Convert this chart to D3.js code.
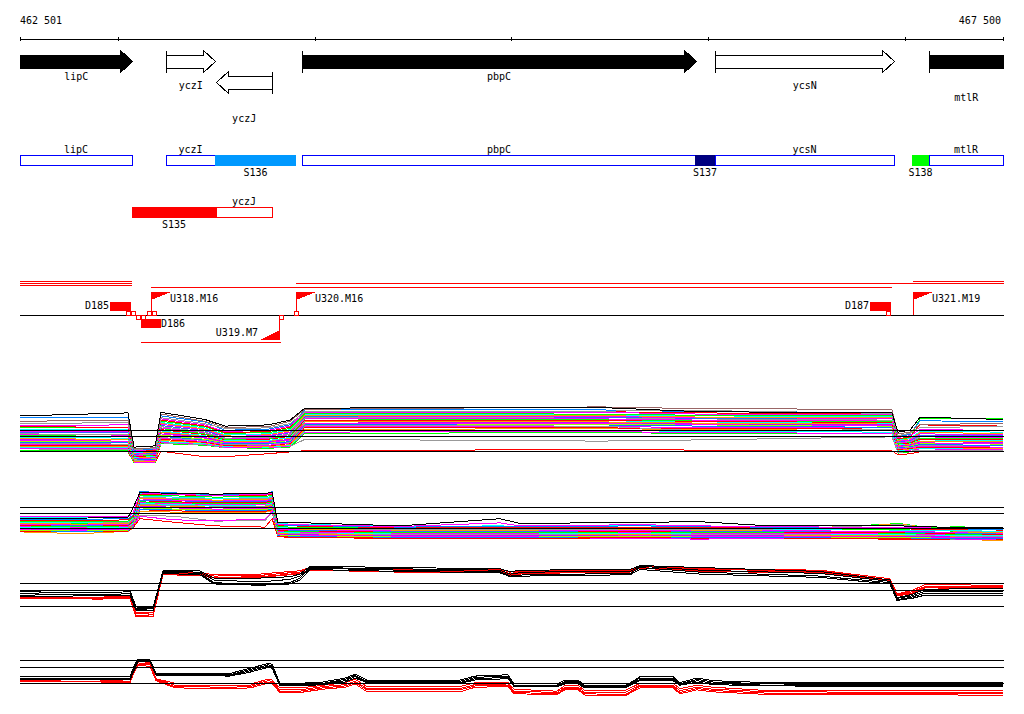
<!DOCTYPE html>
<html><head><meta charset="utf-8">
<script src="https://cdn.jsdelivr.net/npm/d3@7"></script>
<style>
html,body{margin:0;padding:0;background:#fff;}
svg{display:block;}
text{font-family:"DejaVu Sans Mono",monospace;font-size:10px;fill:#000;}
</style></head><body>
<svg id="chart" width="1024" height="714"></svg>
<script>
// ================= DATA =================
const regionStart = 462501, regionEnd = 467500;
const axisTicks  = [462501, 463000, 464000, 465000, 466000, 467000, 467500];

// genes (top arrows)
const geneNames  = ["lipC","yczI","yczJ","pbpC","ycsN","mtlR"];
const geneStart  = [461900, 463246, 463497, 463934, 466037, 467126];
const geneEnd    = [463073, 463492, 463785, 465940, 466946, 468200];
const geneStrand = [1, 1, -1, 1, 1, 1];
const geneFilled = [true, false, false, true, false, true];

// CDS boxes and promoter/site segments
const cdsNames  = ["lipC","yczI","pbpC","ycsN","mtlR","yczJ"];
const cdsStart  = [461900, 463246, 463934, 466037, 467126, 463497];
const cdsEnd    = [463073, 463492, 465940, 466946, 468200, 463785];
const cdsRow    = [0,0,0,0,0,1];
const siteNames = ["S136","S137","S138","S135"];
const siteStart = [463492, 465935, 467038, 463070];
const siteEnd   = [463903, 466037, 467126, 463497];
const siteRow   = [0,0,0,1];

// transcripts
const txStart  = [461900, 461900, 461900, 463167, 463903, 467043, 463116];
const txEnd    = [463065, 463065, 463065, 466931, 468200, 468200, 463822];
const txStrand = [1,1,1,1,1,1,-1];
const txLane   = [0,1,2,3,1,0,0];

// shifts (U = up, D = down)
const shiftNames  = ["D185","D186","U318.M16","U319.M7","U320.M16","D187","U321.M19"];
const shiftPos    = [463065, 463116, 463167, 463820, 463903, 466931, 467043];
const shiftStrand = [1,-1,1,-1,1,1,1];
const markerPos    = [463040, 463063, 463090, 463116, 463146, 463172, 463817, 463895, 466907];
const markerStrand = [1,1,-1,-1,1,1,-1,1,1];

// expression tracks: reference levels
const refLevels = [8, 10.5, 11.5];

// track 1
const track1Pos = [462501,463050,463081,463188,463218,463442,463543,463763,463874,463950,465451,465959,466935,466966,467027,467078,467500];
const track1Series = [
 [13.9,14.4,8.7,8.9,14.5,13.3,12.2,12.4,13.2,15.2,15.3,14.6,14.4,11.2,11.5,13.7,13.3],
 [13.0,13.2,8.4,8.6,14.2,13.0,12.0,12.1,13.0,15.0,15.4,15.1,15.0,10.9,11.2,12.5,12.6],
 [12.6,12.8,8.3,8.5,13.6,12.6,11.8,11.9,12.6,14.6,14.7,14.8,14.3,10.6,11.0,12.0,12.1],
 [13.6,13.7,8.2,8.4,13.9,12.9,11.5,11.7,12.4,14.9,14.9,14.6,14.5,10.5,10.8,13.1,12.9],
 [12.3,12.4,8.1,8.3,13.4,12.4,11.3,11.5,12.2,14.5,14.5,14.2,14.1,10.3,10.6,11.6,11.5],
 [12.1,12.0,8.0,8.2,13.2,12.2,11.1,11.3,12.0,14.6,14.6,14.4,14.2,10.1,10.4,12.4,12.2],
 [11.9,11.9,7.9,8.1,13.0,12.1,11.0,11.1,11.8,14.3,14.2,14.0,13.9,10.0,10.3,13.4,13.5],
 [11.7,11.6,7.8,8.0,12.8,11.9,10.8,10.9,11.6,14.2,14.1,13.9,13.8,9.9,10.2,11.3,11.2],
 [11.5,11.4,7.7,7.9,12.7,11.7,10.7,10.8,11.4,14.0,14.0,13.7,13.6,9.8,10.1,11.1,11.0],
 [11.3,11.3,7.6,7.8,12.5,11.6,10.5,10.6,11.2,13.9,13.8,13.6,13.5,9.7,9.9,10.9,10.8],
 [11.1,11.1,7.5,7.7,12.3,11.4,10.4,10.5,11.1,13.8,13.7,13.5,13.4,9.6,9.8,10.7,10.6],
 [10.9,10.8,7.4,7.6,12.1,11.2,10.2,10.3,10.9,13.6,13.6,13.4,13.2,9.5,9.7,10.5,10.4],
 [10.8,10.7,7.3,7.5,11.9,11.1,10.1,10.2,10.8,13.5,13.4,13.2,13.1,9.4,9.6,10.4,10.3],
 [10.6,10.5,7.2,7.4,11.8,10.9,10.0,10.1,10.6,13.4,13.3,13.1,13.0,9.3,9.5,10.2,10.1],
 [10.4,10.4,7.1,7.3,11.6,10.8,9.9,10.0,10.5,13.2,13.2,13.0,12.8,9.2,9.4,10.0,9.9],
 [10.3,10.2,7.0,7.2,11.4,10.6,9.8,9.8,10.3,13.1,13.1,12.9,12.7,9.1,9.3,9.9,9.8],
 [10.1,10.0,6.9,7.1,11.2,10.5,9.7,9.7,10.2,13.0,12.9,12.7,12.6,9.0,9.2,9.7,9.6],
 [10.0,9.9,6.8,7.0,11.1,10.3,9.6,9.6,10.0,12.9,12.8,12.6,12.4,8.9,9.1,9.6,9.5],
 [9.8,9.7,6.8,6.9,10.9,10.2,9.5,9.5,9.9,12.7,12.7,12.5,12.3,8.8,9.0,9.4,9.3],
 [9.6,9.6,6.7,6.8,10.7,10.0,9.4,9.4,9.8,12.6,12.5,12.4,12.2,8.7,8.9,9.3,9.2],
 [9.5,9.4,6.6,6.7,10.5,9.9,9.3,9.3,9.6,12.5,12.4,12.2,12.0,8.6,8.8,9.1,9.0],
 [9.3,9.2,6.5,6.6,10.3,9.8,9.2,9.2,9.5,12.3,12.2,11.4,11.6,8.5,8.7,9.0,8.9],
 [9.1,9.1,6.5,6.5,10.2,9.6,9.1,9.0,9.4,12.2,12.1,12.0,11.9,8.4,8.6,8.8,8.7],
 [9.0,8.9,6.4,6.4,10.0,9.5,9.0,8.9,9.3,12.0,11.9,11.8,11.7,8.3,8.5,8.7,8.6],
 [8.8,8.8,6.3,6.3,9.8,9.4,8.9,8.8,9.1,11.6,11.8,11.6,11.5,8.2,8.4,8.6,8.5],
 [8.6,8.6,6.3,6.3,9.6,9.3,8.8,8.7,9.0,11.4,11.5,11.3,11.2,8.1,8.3,8.5,8.4],
 [8.5,8.4,6.2,6.2,9.5,9.2,8.7,8.6,8.9,11.2,11.3,11.1,11.0,8.0,8.2,8.4,8.3],
 [8.4,8.3,6.2,6.2,9.4,9.1,8.6,8.6,8.8,10.0,9.7,9.9,10.4,7.8,8.0,8.2,8.1],
 [8.2,8.1,6.1,6.1,9.3,9.0,8.6,8.5,8.7,11.0,11.1,11.0,10.9,7.7,7.9,8.1,8.0],
 [8.0,7.9,6.1,6.1,8.0,7.1,7.1,7.6,7.9,8.1,8.3,8.2,8.1,7.4,7.6,7.9,7.9]
];

// track 2
const track2Pos = [462501,462806,463050,463076,463111,463289,463493,463747,463783,463813,463874,464433,464942,465044,465654,465959,466264,466976,467281,467500];
const track2Series = [
 [9.6,9.7,9.8,11.4,14.0,13.8,13.7,13.8,14.0,8.9,9.0,8.4,9.6,8.8,9.0,9.1,8.5,8.4,8.1,8.2],
 [10.0,9.9,9.9,10.5,13.9,13.6,13.5,13.6,13.9,8.7,8.6,8.3,8.9,8.4,8.6,8.4,8.3,8.1,8.0,7.9],
 [9.4,9.5,9.6,10.2,14.1,13.9,13.6,13.7,14.1,8.6,8.5,8.2,8.3,8.3,8.4,8.3,8.2,8.0,7.9,7.8],
 [9.3,9.3,9.4,10.0,13.7,13.6,13.4,13.5,13.7,8.5,8.4,8.1,8.2,8.2,8.2,8.2,8.1,7.9,7.8,7.7],
 [9.1,9.2,9.2,9.8,13.5,13.4,13.2,13.3,13.5,8.3,8.2,8.0,8.1,8.0,8.1,8.0,8.0,7.8,8.3,7.6],
 [9.0,9.0,9.1,9.7,13.4,13.2,13.0,13.1,13.3,8.2,8.1,7.9,7.9,7.9,8.0,7.9,7.9,7.7,7.6,7.5],
 [8.9,8.9,9.0,9.6,13.2,13.0,12.9,12.9,13.2,8.1,8.0,7.8,7.8,7.8,7.9,7.8,7.8,8.6,7.5,7.4],
 [8.8,8.7,8.8,9.5,13.0,12.9,12.7,12.8,13.0,8.0,7.9,7.7,7.7,7.7,7.8,7.7,7.7,8.7,7.4,7.3],
 [8.7,8.6,8.7,9.4,12.9,12.7,12.6,12.6,12.9,7.9,7.8,7.6,7.6,7.6,7.7,7.6,7.6,7.5,7.3,7.2],
 [8.6,8.5,8.6,9.3,12.7,12.6,12.4,12.5,12.7,7.8,7.7,7.5,7.5,7.5,7.6,7.5,7.5,7.4,7.2,7.1],
 [8.5,8.4,8.5,9.2,12.6,12.4,12.3,12.3,12.6,7.7,7.6,7.4,7.4,7.4,7.5,7.4,7.4,7.3,7.1,7.0],
 [8.4,8.3,8.4,9.1,12.4,12.3,12.1,12.2,12.4,7.6,7.5,7.3,7.3,7.3,7.4,7.3,7.3,7.2,7.0,6.9],
 [8.3,8.2,8.3,9.0,12.3,12.1,12.0,12.0,12.3,7.5,7.4,7.2,7.2,7.2,7.3,7.2,7.2,7.1,6.9,6.9],
 [8.2,8.1,8.2,8.9,12.1,12.0,11.8,11.9,12.1,7.4,7.3,7.1,7.1,7.1,7.2,7.1,7.1,7.0,6.8,6.8],
 [8.1,8.0,8.1,8.8,12.0,11.8,11.7,11.7,12.0,7.3,7.2,7.0,7.0,7.0,7.1,7.0,7.0,6.9,6.7,6.7],
 [8.0,7.9,8.0,8.7,11.8,11.7,11.5,11.6,11.8,7.2,7.1,6.9,6.9,6.9,7.0,6.9,6.9,6.8,6.7,6.6],
 [7.9,7.8,7.9,8.6,11.7,11.5,11.4,11.4,11.7,7.1,7.0,6.8,6.8,6.8,6.9,6.8,6.8,6.7,6.6,6.5],
 [7.8,7.7,7.8,8.5,11.5,11.4,11.2,11.3,11.5,7.0,6.9,6.7,6.7,6.7,6.8,6.7,6.7,6.6,6.5,6.4],
 [7.7,7.6,7.7,8.4,11.4,11.2,11.1,11.1,11.4,6.9,6.8,6.6,6.6,6.6,6.7,6.6,6.6,6.5,6.4,6.4],
 [7.6,7.5,7.6,8.3,11.2,11.1,10.9,11.0,11.2,6.8,6.7,6.5,6.5,6.5,6.6,6.5,6.5,6.4,6.3,6.3],
 [7.5,7.5,7.5,8.2,11.1,10.9,10.8,10.8,11.1,6.7,6.6,6.4,6.4,6.4,6.5,6.4,6.4,6.3,6.3,6.2],
 [7.9,7.8,7.9,8.4,10.0,9.4,9.3,9.5,10.8,6.9,6.7,6.5,6.6,6.5,6.3,6.2,6.3,6.4,6.2,6.2],
 [8.0,7.9,8.0,8.6,10.2,10.0,9.2,9.3,10.6,7.0,6.8,6.6,6.7,6.6,6.5,6.4,6.4,6.3,6.2,6.1],
 [7.6,7.6,7.6,8.1,9.6,9.0,8.4,8.2,9.6,6.6,6.5,6.3,6.3,6.3,6.3,6.3,6.3,6.2,6.1,6.1],
 [7.4,7.1,7.5,8.0,10.8,10.7,10.6,10.7,10.9,6.6,6.5,6.3,6.3,6.3,6.4,6.3,6.3,6.2,6.1,6.0],
 [9.8,9.8,9.9,10.6,13.8,13.7,13.6,13.7,13.9,8.8,8.7,8.3,8.4,8.3,8.5,8.4,8.3,8.1,7.9,7.9],
 [8.9,8.8,8.9,9.6,13.1,12.8,12.5,12.7,13.1,7.9,7.8,7.6,7.6,7.6,7.7,7.6,7.6,8.8,7.3,7.2]
];

// track 3 (black then red replicates)
const track3Pos = [462501,462908,463060,463091,463177,463228,463416,463488,463721,463874,463925,463976,464433,464942,464993,465069,465603,465654,465959,466569,466925,466961,467037,467103,467500];
const track3Series = [
 [10.3,10.4,10.4,7.9,7.8,13.4,13.4,12.3,12.3,12.5,12.9,14.1,13.9,13.7,13.3,13.5,13.6,14.2,13.9,13.3,12.0,9.3,9.8,10.6,10.7],
 [10.0,10.1,10.2,7.7,7.6,13.3,13.2,12.0,11.7,12.1,12.6,13.9,13.7,13.5,12.9,13.2,13.3,14.1,13.5,13.0,11.8,9.2,9.6,10.3,10.3],
 [9.7,9.8,9.9,7.5,7.4,13.2,13.0,11.6,11.3,11.6,12.3,13.8,13.5,13.3,12.6,12.8,13.0,13.9,13.2,12.6,11.6,9.0,9.4,10.0,10.0],
 [9.5,9.6,9.6,7.4,7.3,13.0,12.8,11.4,11.2,11.4,12.0,13.6,13.3,13.1,12.5,12.6,12.8,13.6,12.9,12.4,11.4,8.9,9.2,9.7,9.6],
 [9.4,9.4,9.5,7.1,7.0,13.1,13.1,12.8,12.9,13.3,13.4,13.9,13.6,13.6,13.2,13.4,13.5,14.2,13.7,13.5,12.2,9.9,10.4,11.3,11.2],
 [9.3,9.3,9.4,6.9,6.8,13.0,12.9,12.6,12.7,13.1,13.2,13.8,13.5,13.4,13.0,13.3,13.4,14.1,13.6,13.4,12.0,9.8,10.2,11.0,11.0],
 [9.2,9.2,9.3,6.6,6.5,12.9,12.8,12.4,12.5,12.9,13.0,13.6,13.3,13.3,12.8,13.1,13.3,13.9,13.4,13.2,11.9,9.7,10.0,10.9,10.8],
 [9.2,9.1,9.2,6.4,6.4,12.8,12.7,12.3,12.4,12.8,12.9,13.5,13.2,13.2,12.7,13.0,13.2,13.8,13.3,13.1,11.8,9.6,9.9,10.8,10.7]
];

// track 4 (black then red replicates)
const track4Pos = [462501,462908,463060,463081,463101,463162,463193,463289,463569,463671,463762,463783,463823,463925,464042,464154,464205,464266,464739,464815,464983,465013,465232,465273,465339,465374,465578,465654,465822,465857,465944,466025,466300,467500];
const track4Series = [
 [9.0,9.0,9.0,10.6,11.7,11.6,9.5,9.5,9.5,10.3,11.0,10.9,8.0,8.0,8.2,8.8,9.4,8.5,8.5,9.1,9.3,7.9,7.9,8.5,8.5,7.6,7.6,9.0,9.0,8.1,8.8,8.4,8.1,8.1],
 [8.8,8.8,8.7,10.3,11.6,11.5,9.4,9.4,9.3,10.1,10.8,10.7,7.8,7.8,8.0,8.6,9.2,8.3,8.3,8.9,9.1,7.7,7.7,8.3,8.3,7.5,7.5,8.8,8.8,7.9,8.6,8.2,7.9,7.8],
 [8.7,8.7,8.6,10.1,11.5,11.4,9.3,9.3,9.2,9.9,10.6,10.5,7.7,7.7,7.9,8.4,9.0,8.2,8.1,8.7,8.9,7.6,7.6,8.1,8.1,7.4,7.4,8.6,8.6,7.8,8.4,8.0,7.7,7.6],
 [8.6,8.6,8.5,9.9,11.3,11.3,9.2,9.2,9.1,9.7,10.4,10.3,7.6,7.6,7.8,8.2,8.8,8.1,8.0,8.5,8.7,7.5,7.5,7.9,7.9,7.3,7.3,8.4,8.4,7.7,8.2,7.8,7.6,7.5],
 [8.8,8.7,8.5,10.2,11.3,11.2,8.7,8.0,7.9,7.9,8.6,8.5,7.3,7.3,7.7,8.1,8.6,7.5,7.5,8.1,8.1,7.1,6.8,7.7,7.7,6.9,6.9,8.0,8.0,7.2,7.7,7.4,6.9,6.9],
 [8.6,8.5,8.3,10.0,11.1,11.0,8.6,7.7,7.6,7.7,8.4,8.3,7.0,7.0,7.5,7.8,8.3,7.2,7.2,7.8,7.9,6.8,6.6,7.4,7.4,6.6,6.6,7.7,7.7,6.9,7.4,7.1,6.7,6.6],
 [8.4,8.3,8.2,9.8,10.9,10.8,8.5,7.5,7.4,7.5,8.2,8.1,6.8,6.8,7.3,7.6,8.1,7.0,7.0,7.6,7.7,6.6,6.4,7.2,7.2,6.4,6.3,7.5,7.5,6.6,7.2,6.9,6.5,6.4],
 [8.3,8.2,8.1,9.6,10.7,10.6,8.4,7.3,7.2,7.3,8.0,7.9,6.6,6.6,7.1,7.4,7.9,6.7,6.7,7.4,7.5,6.4,6.3,7.0,7.0,6.2,6.1,7.3,7.3,6.4,7.0,6.7,6.3,6.2]
];

// ================= STYLE / LAYOUT =================
const M = "#ff00ff", LI = "#00ff00", DB = "#0080ff", RD = "#ff0000", CY = "#00ffff",
      OR = "#ff9900", GR = "#999999", BR = "#996666", BK = "#000000", BL = "#3366ff",
      PU = "#cc00ff", CH = "#99ff00";
const palette1 = [BK,BR,GR,DB,M,RD,LI,CY,OR,M,BL,GR,M,LI,RD,CY,OR,PU,M,CH,DB,GR,M,RD,OR,CY,M,GR,LI,RD];
const palette2 = [BK,M,DB,RD,LI,CY,GR,OR,M,BL,RD,LI,M,CY,GR,OR,PU,M,CH,DB,RD,M,GR,RD,OR,CY,LI];
const palette34 = [BK,BK,BK,BK,RD,RD,RD,RD];
const geneLabelY = {lipC:80, yczI:89, yczJ:122, pbpC:80, ycsN:89, mtlR:101};
const siteColor = {S136:"#0099ff", S137:"#000080", S138:"#00ff00", S135:"#ff0000"};
const rowBorder = ["#0000ff", "#ff0000"];
const rowTop = [155, 207];

// ================= DRAW =================
const svg = d3.select("#chart");
const x = d3.scaleLinear().domain([regionStart, regionEnd]).range([20, 1003]);
const cx = v => x(Math.max(regionStart, Math.min(regionEnd, v)));
const fmt = d3.formatLocale({decimal: ".", thousands: " ", grouping: [3], currency: ["", ""]}).format(",d");

// axis
const axisG = svg.append("g").attr("transform", "translate(0,38.5)").attr("shape-rendering", "crispEdges")
  .call(d3.axisBottom(x).tickValues(axisTicks).tickSizeInner(2).tickSizeOuter(0).tickFormat(() => ""));
axisG.selectAll(".tick line").attr("y1", -2).attr("y2", 2);
axisG.select(".domain").attr("stroke", "#000");
svg.append("text").attr("x", x(regionStart)).attr("y", 24).text(fmt(regionStart));
svg.append("text").attr("x", x(regionEnd) - 2).attr("y", 24).attr("text-anchor", "end").text(fmt(regionEnd));

// gene arrows
const geneG = svg.append("g").attr("shape-rendering", "crispEdges");
geneNames.forEach((name, i) => {
  const strand = geneStrand[i];
  const cy = strand > 0 ? 61.5 : 82.5;
  const x0 = Math.round(cx(geneStart[i])) + 0.5, x1 = Math.round(cx(geneEnd[i])) + 0.5;
  const bh = 6.5, hh = 11, hl = 12;
  let pts;
  if (strand > 0) {
    const head = geneEnd[i] <= regionEnd;
    pts = head ? [[x0, cy - bh], [x1 - hl, cy - bh], [x1 - hl, cy - hh], [x1, cy], [x1 - hl, cy + hh], [x1 - hl, cy + bh], [x0, cy + bh]]
               : [[x0, cy - bh], [x1, cy - bh], [x1, cy + bh], [x0, cy + bh]];
    if (geneStart[i] >= regionStart) geneG.append("line").attr("x1", x0).attr("x2", x0).attr("y1", cy - hh).attr("y2", cy + hh).attr("stroke", "#000");
  } else {
    const head = geneStart[i] >= regionStart;
    pts = head ? [[x1, cy - bh], [x0 + hl, cy - bh], [x0 + hl, cy - hh], [x0, cy], [x0 + hl, cy + hh], [x0 + hl, cy + bh], [x1, cy + bh]]
               : [[x1, cy - bh], [x0, cy - bh], [x0, cy + bh], [x1, cy + bh]];
    if (geneEnd[i] <= regionEnd) geneG.append("line").attr("x1", x1).attr("x2", x1).attr("y1", cy - hh).attr("y2", cy + hh).attr("stroke", "#000");
  }
  geneG.append("path").attr("d", d3.line()(pts) + "Z")
    .attr("fill", geneFilled[i] ? "#000" : "#fff").attr("stroke", "#000");
  svg.append("text").attr("x", (cx(geneStart[i]) + cx(geneEnd[i])) / 2).attr("y", geneLabelY[name])
    .attr("text-anchor", "middle").text(name);
});

// CDS boxes
const boxG = svg.append("g").attr("shape-rendering", "crispEdges");
cdsNames.forEach((name, i) => {
  const r = cdsRow[i], top = rowTop[r];
  const x0 = Math.round(cx(cdsStart[i])), x1 = Math.round(cx(cdsEnd[i]));
  boxG.append("rect").attr("x", x0 + 0.5).attr("y", top + 0.5).attr("width", x1 - x0).attr("height", 10)
    .attr("fill", "#fff").attr("stroke", rowBorder[r]);
  svg.append("text").attr("x", (x0 + x1) / 2).attr("y", top - 2).attr("text-anchor", "middle").text(name);
});
siteNames.forEach((name, i) => {
  const r = siteRow[i], top = rowTop[r];
  const x0 = Math.round(cx(siteStart[i])), x1 = Math.round(cx(siteEnd[i]));
  boxG.append("rect").attr("x", x0).attr("y", top).attr("width", x1 - x0).attr("height", 11)
    .attr("fill", siteColor[name]);
  svg.append("text").attr("x", (x0 + x1) / 2).attr("y", top + 21).attr("text-anchor", "middle").text(name);
});

// transcripts and shifts
const trG = svg.append("g").attr("shape-rendering", "crispEdges");
txStart.forEach((s, i) => {
  const y = txStrand[i] > 0 ? 281 + 2 * txLane[i] : 342 + 2 * txLane[i];
  const x0 = Math.round(cx(s)), x1 = Math.round(cx(txEnd[i])) + 1;
  trG.append("rect").attr("x", x0).attr("y", y).attr("width", x1 - x0).attr("height", 1).attr("fill", "#ff0000");
});
trG.append("line").attr("x1", x(regionStart)).attr("x2", x(regionEnd) + 1).attr("y1", 315.5).attr("y2", 315.5).attr("stroke", "#000");

shiftNames.forEach((name, i) => {
  const px = Math.round(x(shiftPos[i]));
  const fwd = shiftStrand[i] > 0;
  if (name[0] === "U") {
    if (fwd) {
      trG.append("rect").attr("x", px).attr("y", 292).attr("width", 1).attr("height", 23).attr("fill", "#ff0000");
      trG.append("path").attr("d", `M${px},292L${px + 20},292L${px},300Z`).attr("fill", "#ff0000");
      svg.append("text").attr("x", px + 19).attr("y", 302).text(name);
    } else {
      trG.append("rect").attr("x", px).attr("y", 316).attr("width", 1).attr("height", 24).attr("fill", "#ff0000");
      trG.append("path").attr("d", `M${px + 1},340L${px - 19},340L${px + 1},330Z`).attr("fill", "#ff0000");
      svg.append("text").attr("x", px - 21).attr("y", 336).attr("text-anchor", "end").text(name);
    }
  } else {
    if (fwd) {
      trG.append("rect").attr("x", px - 21).attr("y", 302).attr("width", 21).attr("height", 9).attr("fill", "#ff0000");
      svg.append("text").attr("x", px - 22).attr("y", 309).attr("text-anchor", "end").text(name);
    } else {
      trG.append("rect").attr("x", px).attr("y", 319).attr("width", 20).attr("height", 9).attr("fill", "#ff0000");
      svg.append("text").attr("x", px + 20).attr("y", 327).text(name);
    }
  }
});
markerPos.forEach((p, i) => {
  const px = Math.round(x(p));
  trG.append("rect").attr("x", px + 0.5).attr("y", markerStrand[i] > 0 ? 311.5 : 315.5)
    .attr("width", 4).attr("height", 4).attr("fill", "#fff").attr("stroke", "#ff0000");
});

// expression tracks
function drawTrack(positions, series, colors, yRange) {
  const g = svg.append("g").attr("shape-rendering", "crispEdges");
  const y = d3.scaleLinear().domain([8, 11.5]).range(yRange);
  const line = d3.line().x((d, i) => x(positions[i])).y(d => y(d));
  for (let i = series.length - 1; i >= 0; i--) {
    g.append("path").attr("d", line(series[i])).attr("fill", "none")
      .attr("stroke", colors[i]).attr("stroke-width", 1);
  }
  refLevels.forEach(v => {
    const yy = Math.round(y(v)) + 0.5;
    g.append("line").attr("x1", x(regionStart)).attr("x2", x(regionEnd) + 1)
      .attr("y1", yy).attr("y2", yy).attr("stroke", "#000");
  });
}
drawTrack(track1Pos, track1Series, palette1, [451.3, 430.3]);
drawTrack(track2Pos, track2Series, palette2, [528.3, 507.3]);
drawTrack(track3Pos, track3Series, palette34, [606.3, 583.3]);
drawTrack(track4Pos, track4Series, palette34, [683.3, 660.3]);
</script>
</body></html>
